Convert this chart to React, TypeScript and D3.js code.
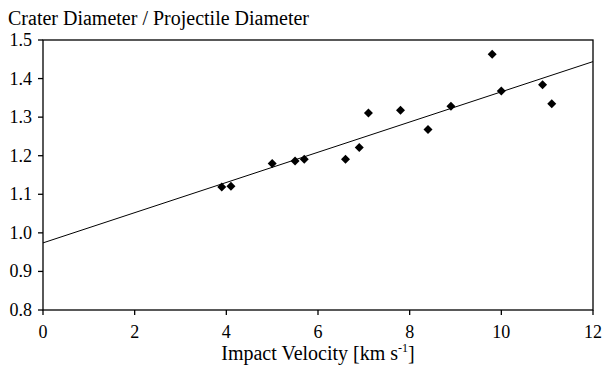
import React from "react";
import * as d3 from "d3";

const velocity = [3.9, 4.1, 5.0, 5.5, 5.7, 6.6, 6.9, 7.1, 7.8, 8.4, 8.9, 9.8, 10.0, 10.9, 11.1];
const ratio = [1.119, 1.121, 1.18, 1.186, 1.191, 1.191, 1.221, 1.311, 1.318, 1.268, 1.328, 1.463, 1.368, 1.384, 1.335];
const trendX = [0, 12];
const trendY = [0.974, 1.444];
const xTicks = [0, 2, 4, 6, 8, 10, 12];
const yTicks = [0.8, 0.9, 1.0, 1.1, 1.2, 1.3, 1.4, 1.5];

export default function App() {
  const W = 602, H = 365;
  const L = 43, R = 593, T = 40, B = 310;
  const x = d3.scaleLinear().domain([0, 12]).range([L, R]);
  const y = d3.scaleLinear().domain([0.8, 1.5]).range([B, T]);
  const line = d3.line<number>().x((d) => x(trendX[d])).y((d) => y(trendY[d]));
  const font = "Liberation Serif, Times New Roman, serif";
  const diamond = "M0,-4.5L4.5,0L0,4.5L-4.5,0Z";
  return (
    <svg width={W} height={H} style={{ position: "absolute", left: 0, top: 0, background: "#fff", fontFamily: font }}>
      <text x={8} y={25} fontSize={20} fill="#000">Crater Diameter / Projectile Diameter</text>
      <rect x={L} y={T} width={R - L} height={B - T} fill="none" stroke="#000" strokeWidth={1.3} />
      {yTicks.map((t) => (
        <g key={"y" + t}>
          <line x1={L - 5} x2={L} y1={y(t)} y2={y(t)} stroke="#000" strokeWidth={1.3} />
          <text x={32} y={y(t)} dy="0.33em" textAnchor="end" fontSize={18} fill="#000">{t.toFixed(1)}</text>
        </g>
      ))}
      {xTicks.map((t) => (
        <g key={"x" + t}>
          <line x1={x(t)} x2={x(t)} y1={B} y2={B + 5} stroke="#000" strokeWidth={1.3} />
          <text x={x(t)} y={338} textAnchor="middle" fontSize={18} fill="#000">{t}</text>
        </g>
      ))}
      <text x={(L + R) / 2} y={360} textAnchor="middle" fontSize={20} fill="#000">
        Impact Velocity [km s<tspan dy={-8} fontSize={12}>-1</tspan><tspan dy={8}>]</tspan>
      </text>
      <path d={line(trendX.map((_, i) => i)) || ""} fill="none" stroke="#000" strokeWidth={1} />
      {velocity.map((v, i) => (
        <path key={i} d={diamond} transform={`translate(${x(v)},${y(ratio[i])})`} fill="#000" />
      ))}
    </svg>
  );
}
